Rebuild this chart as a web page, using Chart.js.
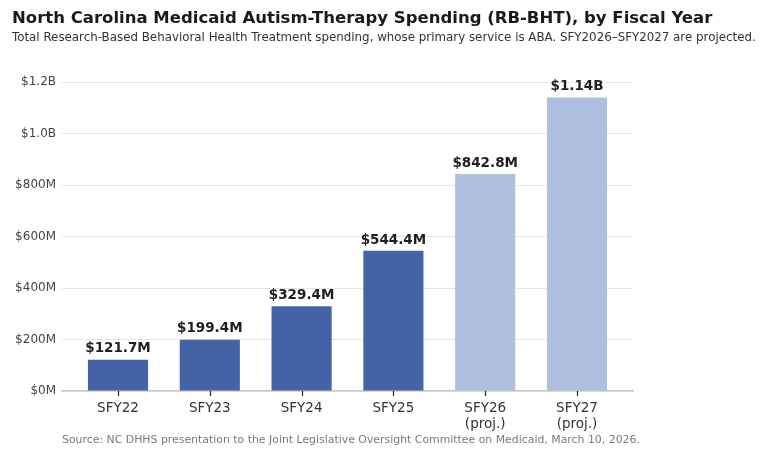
<!DOCTYPE html>
<html>
<head>
<meta charset="utf-8">
<script src="https://cdn.jsdelivr.net/npm/chart.js@4.4.1/dist/chart.umd.min.js"></script>
<style>
  html, body { margin: 0; padding: 0; background: #fff; }
  #wrap { position: relative; width: 768px; height: 460px; font-family: "DejaVu Sans", sans-serif; }
  #chart { position: absolute; left: 0; top: 0; }
  .title { position: absolute; left: 12px; top: 8px; font-size: 16.5px; font-weight: bold; color: #1a1a1a; white-space: nowrap; }
  .subtitle { position: absolute; left: 12px; top: 30px; font-size: 11.85px; color: #333; white-space: nowrap; }
  .source { position: absolute; left: 62px; top: 433px; font-size: 10.9px; color: #7a7a7a; white-space: nowrap; }
</style>
</head>
<body>
<div id="wrap">
  <canvas id="chart" width="768" height="460"></canvas>
  <div class="title">North Carolina Medicaid Autism-Therapy Spending (RB-BHT), by Fiscal Year</div>
  <div class="subtitle">Total Research-Based Behavioral Health Treatment spending, whose primary service is ABA. SFY2026–SFY2027 are projected.</div>
  <div class="source">Source: NC DHHS presentation to the Joint Legislative Oversight Committee on Medicaid, March 10, 2026.</div>
</div>
<script>
const years = ['SFY22', 'SFY23', 'SFY24', 'SFY25', 'SFY26', 'SFY27'];
const spendingMillions = [121.7, 199.4, 329.4, 544.4, 842.8, 1140];
const projected = [false, false, false, false, true, true];
const yTicks = [0, 200, 400, 600, 800, 1000, 1200];

const actualColor = '#4563a7';
const projColor = '#aebfe0';

function moneyLabel(v) {
    return v >= 1000 ? '$' + (v / 1000).toFixed(2) + 'B' : '$' + v.toFixed(1) + 'M';
}

// value labels above each bar + small tick marks under the x axis
const barLabels = {
    id: 'barLabels',
    afterDatasetsDraw(chart) {
        const ctx = chart.ctx;
        const meta = chart.getDatasetMeta(0);
        const xScale = chart.scales.x;
        const base = chart.chartArea.bottom;
        ctx.save();
        ctx.strokeStyle = '#222';
        ctx.lineWidth = 1.2;
        years.forEach((_, i) => {
            const px = Math.round(xScale.getPixelForValue(i)) + 0.5;
            ctx.beginPath();
            ctx.moveTo(px, base);
            ctx.lineTo(px, base + 5);
            ctx.stroke();
        });
        ctx.font = 'bold 13.5px "DejaVu Sans"';
        ctx.fillStyle = '#1f1f1f';
        ctx.textAlign = 'center';
        ctx.textBaseline = 'bottom';
        meta.data.forEach((bar, i) => {
            ctx.fillText(moneyLabel(spendingMillions[i]), bar.x, bar.y - 4);
        });
        ctx.restore();
    }
};

new Chart(document.getElementById('chart'), {
    type: 'bar',
    data: {
        datasets: [{
            data: spendingMillions.map((v, i) => ({ x: i, y: v })),
            backgroundColor: projected.map(p => p ? projColor : actualColor),
            barPercentage: 0.655,
            categoryPercentage: 1
        }]
    },
    options: {
        responsive: false,
        animation: false,
        layout: { padding: { left: 0, right: 135, top: 82, bottom: 29 } },
        plugins: { legend: { display: false }, tooltip: { enabled: false } },
        scales: {
            x: {
                type: 'linear',
                min: -0.61,
                max: 5.61,
                offset: false,
                afterBuildTicks(scale) {
                    scale.ticks = years.map((_, i) => ({ value: i }));
                },
                afterFit(scale) { scale.height = 40; },
                ticks: {
                    callback: v => projected[v] ? [years[v], '(proj.)'] : years[v],
                    font: { family: 'DejaVu Sans', size: 13.5, lineHeight: 1.2 },
                    color: '#333',
                    padding: 9,
                    maxRotation: 0
                },
                grid: { display: false, drawTicks: false },
                border: { display: true, color: '#c8c8c8', width: 1.5 }
            },
            y: {
                min: 0,
                max: 1200,
                afterBuildTicks(scale) {
                    scale.ticks = yTicks.map(v => ({ value: v }));
                },
                afterFit(scale) { scale.width = 62; },
                ticks: {
                    callback: v => v >= 1000 ? '$' + (v / 1000).toFixed(1) + 'B' : '$' + v + 'M',
                    font: { family: 'DejaVu Sans', size: 12 },
                    color: '#444',
                    padding: 6
                },
                grid: { color: '#e6e6e6', lineWidth: 1, drawTicks: false },
                border: { display: false }
            }
        }
    },
    plugins: [barLabels]
});
</script>
</body>
</html>
